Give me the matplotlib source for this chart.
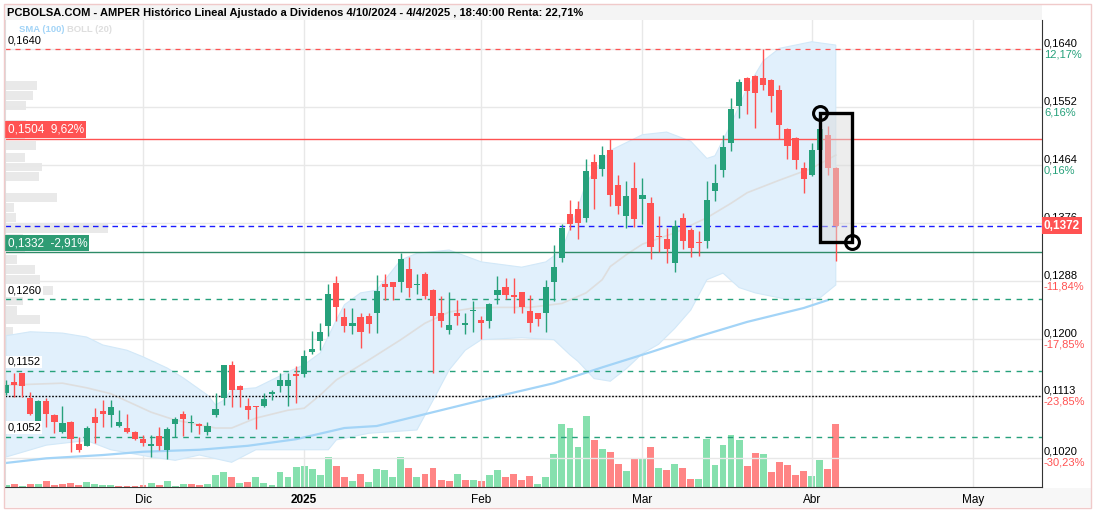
import numpy as np
import matplotlib
matplotlib.use("Agg")
import matplotlib.pyplot as plt
import matplotlib.transforms as mtransforms
from matplotlib.patches import Rectangle

plt.rcParams['font.family'] = ['Liberation Sans', 'DejaVu Sans']

titulo = "PCBOLSA.COM - AMPER Histórico Lineal Ajustado a Dividenos 4/10/2024 - 4/4/2025 , 18:40:00 Renta: 22,71%"

# velas diarias (indice de sesion 0..103, 17 = 2 dic 2024, 103 = 4 abr 2025)
apertura = [0.1118, 0.1135, 0.1148, 0.1111, 0.1074, 0.1106, 0.1085, 0.1059, 0.1074, 0.1041,
            0.1038, 0.1082, 0.1091, 0.1085, 0.1068, 0.1065, 0.1059, 0.1048, 0.1038, 0.1053,
            0.1032, 0.1071, 0.1086, 0.1072, 0.1071, 0.1059, 0.1085, 0.1110, 0.1160, 0.1129,
            0.1098, 0.1098, 0.1098, 0.1117, 0.1129, 0.1129, 0.1147, 0.1147, 0.1181, 0.1197,
            0.1219, 0.1285, 0.1233, 0.1220, 0.1233, 0.1235, 0.1240, 0.1283, 0.1286, 0.1286,
            0.1306, 0.1282, 0.1299, 0.1274, 0.1240, 0.1213, 0.1240, 0.1222, 0.1243, 0.1229,
            0.1228, 0.1267, 0.1279, 0.1267, 0.1271, 0.1243, 0.1239, 0.1240, 0.1286, 0.1323,
            0.1390, 0.1397, 0.1384, 0.1468, 0.1458, 0.1487, 0.1434, 0.1387, 0.1429, 0.1413,
            0.1407, 0.1357, 0.1352, 0.1316, 0.1383, 0.1365, 0.1347, 0.1348, 0.1424, 0.1456,
            0.1498, 0.1554, 0.1596, 0.1599, 0.1596, 0.1593, 0.1578, 0.1519, 0.1505, 0.1460,
            0.1449, 0.1487, 0.1509, 0.1460]
maximo = [0.1138, 0.1148, 0.1149, 0.1120, 0.1107, 0.1110, 0.1086, 0.1098, 0.1076, 0.1051,
          0.1068, 0.1095, 0.1108, 0.1108, 0.1092, 0.1087, 0.1060, 0.1054, 0.1054, 0.1066,
          0.1067, 0.1082, 0.1091, 0.1085, 0.1072, 0.1074, 0.1118, 0.1161, 0.1166, 0.1130,
          0.1110, 0.1099, 0.1118, 0.1122, 0.1148, 0.1149, 0.1159, 0.1183, 0.1212, 0.1224,
          0.1283, 0.1296, 0.1247, 0.1247, 0.1240, 0.1239, 0.1297, 0.1299, 0.1287, 0.1330,
          0.1324, 0.1299, 0.1301, 0.1276, 0.1265, 0.1271, 0.1259, 0.1240, 0.1257, 0.1235,
          0.1254, 0.1296, 0.1292, 0.1292, 0.1272, 0.1267, 0.1240, 0.1290, 0.1343, 0.1374,
          0.1411, 0.1409, 0.1473, 0.1480, 0.1493, 0.1503, 0.1449, 0.1440, 0.1468, 0.1445,
          0.1416, 0.1387, 0.1368, 0.1381, 0.1391, 0.1369, 0.1364, 0.1440, 0.1465, 0.1509,
          0.1565, 0.1594, 0.1597, 0.1600, 0.1640, 0.1594, 0.1586, 0.1520, 0.1506, 0.1468,
          0.1497, 0.1522, 0.1523, 0.1461]
minimo = [0.1115, 0.1112, 0.1112, 0.1085, 0.1070, 0.1067, 0.1058, 0.1057, 0.1028, 0.1028,
          0.1037, 0.1043, 0.1067, 0.1067, 0.1066, 0.1058, 0.1047, 0.1037, 0.1021, 0.1032,
          0.1018, 0.1051, 0.1053, 0.1059, 0.1056, 0.1054, 0.1081, 0.1100, 0.1097, 0.1097,
          0.1078, 0.1064, 0.1097, 0.1108, 0.1120, 0.1099, 0.1103, 0.1142, 0.1178, 0.1183,
          0.1204, 0.1228, 0.1210, 0.1208, 0.1186, 0.1209, 0.1209, 0.1259, 0.1259, 0.1272,
          0.1264, 0.1268, 0.1260, 0.1149, 0.1218, 0.1208, 0.1221, 0.1208, 0.1211, 0.1200,
          0.1216, 0.1253, 0.1260, 0.1240, 0.1240, 0.1211, 0.1220, 0.1211, 0.1258, 0.1317,
          0.1365, 0.1351, 0.1378, 0.1398, 0.1448, 0.1402, 0.1389, 0.1368, 0.1370, 0.1374,
          0.1322, 0.1332, 0.1315, 0.1301, 0.1336, 0.1324, 0.1326, 0.1338, 0.1410, 0.1446,
          0.1486, 0.1535, 0.1542, 0.1520, 0.1578, 0.1545, 0.1503, 0.1473, 0.1458, 0.1422,
          0.1448, 0.1486, 0.1449, 0.1318]
cierre = [0.1130, 0.1130, 0.1129, 0.1087, 0.1106, 0.1086, 0.1074, 0.1072, 0.1049, 0.1032,
          0.1065, 0.1073, 0.1087, 0.1097, 0.1074, 0.1059, 0.1048, 0.1043, 0.1041, 0.1038,
          0.1064, 0.1078, 0.1079, 0.1074, 0.1068, 0.1068, 0.1094, 0.1160, 0.1122, 0.1122,
          0.1092, 0.1097, 0.1109, 0.1119, 0.1138, 0.1138, 0.1144, 0.1174, 0.1185, 0.1211,
          0.1268, 0.1248, 0.1219, 0.1225, 0.1210, 0.1223, 0.1273, 0.1279, 0.1279, 0.1321,
          0.1278, 0.1283, 0.1266, 0.1235, 0.1228, 0.1221, 0.1235, 0.1224, 0.1244, 0.1224,
          0.1253, 0.1274, 0.1267, 0.1263, 0.1249, 0.1225, 0.1230, 0.1279, 0.1309, 0.1369,
          0.1374, 0.1376, 0.1455, 0.1443, 0.1479, 0.1419, 0.1402, 0.1417, 0.1382, 0.1418,
          0.1340, 0.1355, 0.1336, 0.1371, 0.1348, 0.1338, 0.1346, 0.1411, 0.1436, 0.1491,
          0.1549, 0.1590, 0.1577, 0.1573, 0.1585, 0.1568, 0.1525, 0.1493, 0.1472, 0.1443,
          0.1487, 0.1519, 0.1460, 0.1372]
# volumen (millones de titulos) y si la sesion cierra por encima de la anterior
volumen = [2.0, 3.3, 1.0, 2.7, 3.3, 6.3, 2.0, 3.3, 3.7, 2.0,
           4.7, 2.7, 1.7, 1.7, 1.0, 1.0, 1.0, 1.7, 4.3, 1.7,
           6.3, 1.0, 3.3, 3.3, 2.3, 3.0, 11.7, 14.7, 9.7, 3.7,
           4.7, 9.7, 3.7, 1.7, 14.7, 9.7, 19.7, 20.7, 18.0, 11.7,
           29.7, 20.7, 9.7, 5.7, 12.7, 4.7, 18.0, 17.0, 9.7, 29.7,
           18.7, 9.7, 12.7, 18.7, 7.0, 5.7, 12.7, 7.0, 7.0, 5.7,
           11.7, 17.0, 9.7, 12.7, 7.0, 10.7, 2.7, 9.7, 33.0, 63.0,
           59.0, 39.7, 70.7, 46.7, 38.0, 35.0, 23.0, 15.7, 29.0, 28.0,
           40.0, 19.0, 17.0, 23.0, 19.0, 8.0, 8.0, 48.0, 21.7, 41.7,
           52.0, 46.7, 21.0, 33.7, 33.0, 15.0, 25.0, 22.0, 12.0, 16.0,
           10.7, 27.0, 18.0, 63.0]
vol_sube = [1, 0, 1, 0, 1, 0, 0, 0, 0, 0,
            1, 1, 1, 1, 0, 0, 0, 0, 1, 0,
            1, 1, 1, 0, 0, 1, 1, 1, 0, 1,
            0, 1, 1, 1, 1, 1, 1, 1, 1, 1,
            1, 0, 0, 1, 0, 1, 1, 1, 1, 1,
            0, 1, 0, 0, 0, 0, 1, 0, 1, 0,
            1, 1, 0, 0, 0, 0, 1, 1, 1, 1,
            1, 1, 1, 0, 1, 0, 0, 1, 0, 1,
            0, 1, 0, 1, 0, 0, 1, 1, 1, 1,
            1, 1, 0, 0, 1, 0, 0, 0, 0, 0,
            1, 1, 0, 0]

# bandas de Bollinger (20) y media simple (100)
boll_sup_idx = [0, 3, 7, 10, 12, 15, 17, 20, 22, 25, 26, 27, 28, 31, 35, 37, 39, 41, 42, 44,
                46, 49, 51, 55, 59, 64, 67, 69, 71, 72, 75, 79, 82, 85, 87, 88, 90, 92, 94,
                96, 100, 103]
boll_sup = [0.1205, 0.1211, 0.1209, 0.1203, 0.1191, 0.1183, 0.1173, 0.1156, 0.1141, 0.1115,
            0.1100, 0.1107, 0.1123, 0.1126, 0.1150, 0.1161, 0.1179, 0.1229, 0.1252, 0.1270,
            0.1274, 0.1320, 0.1330, 0.1335, 0.1317, 0.1309, 0.1317, 0.1335, 0.1400, 0.1437,
            0.1486, 0.1510, 0.1514, 0.1500, 0.1474, 0.1478, 0.1526, 0.1581, 0.1622,
            0.1641, 0.1651, 0.1646]
boll_inf_idx = [0, 5, 10, 13, 18, 21, 24, 28, 31, 36, 40, 41, 45, 51, 53, 55, 57, 59, 64,
                68, 70, 71, 73, 75, 77, 79, 81, 83, 85, 87, 89, 91, 93, 97, 101, 103]
boll_inf = [0.1021, 0.1039, 0.1046, 0.1032, 0.1021, 0.1016, 0.1024, 0.1013, 0.1032, 0.1032,
            0.1032, 0.1047, 0.1057, 0.1062, 0.1107, 0.1153, 0.1183, 0.1199, 0.1202, 0.1199,
            0.1176, 0.1166, 0.1140, 0.1136, 0.1155, 0.1178, 0.1192, 0.1216, 0.1244, 0.1290,
            0.1300, 0.1278, 0.1270, 0.1260, 0.1262, 0.1282]
boll_med_idx = [0, 7, 10, 13, 18, 21, 26, 28, 31, 35, 37, 39, 41, 45, 49, 52, 55, 58, 61,
                65, 69, 72, 74, 75, 77, 79, 83, 87, 90, 92, 96, 100, 103]
boll_med = [0.1130, 0.1133, 0.1126, 0.1117, 0.1089, 0.1077, 0.1065, 0.1065, 0.1080, 0.1092,
            0.1095, 0.1115, 0.1138, 0.1168, 0.1199, 0.1224, 0.1241, 0.1247, 0.1248, 0.1248,
            0.1254, 0.1270, 0.1290, 0.1310, 0.1328, 0.1344, 0.1361, 0.1384, 0.1406, 0.1422,
            0.1441, 0.1459, 0.1479]
sma_idx = [0, 5, 12, 17, 24, 30, 36, 42, 46, 53, 59, 61, 68, 74, 80, 86, 92, 99, 102]
sma = [0.1012, 0.1019, 0.1024, 0.1029, 0.1032, 0.1038, 0.1048, 0.1065, 0.1068, 0.1089,
       0.1107, 0.1113, 0.1133, 0.1157, 0.1180, 0.1204, 0.1226, 0.1247, 0.1259]

# perfil de volumen por precio (lateral izquierdo)
perfil_precio = [0.1585, 0.1570, 0.1555, 0.1525, 0.1509, 0.1493, 0.1476, 0.1461, 0.1446,
                 0.1414, 0.1399, 0.1384, 0.1368, 0.1353, 0.1338, 0.1321, 0.1306, 0.1291,
                 0.1274, 0.1259, 0.1244, 0.1229, 0.1212, 0.1197, 0.1180, 0.1165, 0.1150,
                 0.1135, 0.1120, 0.1104, 0.1088, 0.1073, 0.1058, 0.1043]
perfil_vol = [32, 28, 21, 21, 20, 31, 20, 37, 34, 52, 9, 11, 103, 18, 20, 12, 30, 35,
              48, 18, 12, 35, 8, 6, 25, 25, 8, 27, 10, 10, 17, 12, 8, 10]

# niveles horizontales
nivel_max = 0.1640
nivel_res = 0.1504
nivel_ult = 0.1372
nivel_sop = 0.1332
niveles_verdes = [0.1260, 0.1152, 0.1052]
nivel_punteado = 0.1113
# rectangulo dibujado (indice inicio, indice fin, precio alto, precio bajo)
rect_x = [101, 105]
rect_y = [0.1543, 0.1347]

eje_precios = [0.1640, 0.1552, 0.1464, 0.1376, 0.1288, 0.1200, 0.1113, 0.1020]
eje_pct = ['12,17%', '6,16%', '0,16%', '', '-11,84%', '-17,85%', '-23,85%', '-30,23%']

meses = ['Dic', '2025', 'Feb', 'Mar', 'Abr', 'May']
meses_idx = [17, 37, 59, 79, 100, 120]

VERDE = '#26a17b'
ROJO = '#ff5252'
W, H = 1096, 512

fig = plt.figure(figsize=(W / 100, H / 100), dpi=100)
fig.patch.set_facecolor('white')

def fx(px):
    return px / W

def fy(py):
    return 1 - py / H

ax = fig.add_axes([fx(4.5), fy(487), fx(1042) - fx(4.5), fy(20) - fy(487)])
axv = ax.twinx()
axv.set_zorder(ax.get_zorder() - 1)
ax.patch.set_visible(False)

n = len(cierre)
x = np.arange(n)
o = np.array(apertura); c = np.array(cierre)
hi = np.array(maximo); lo = np.array(minimo)
sube = c >= o

# volumen abajo
vcol = ['#86e0ae' if s else '#ff8585' for s in vol_sube]
axv.bar(x, volumen, width=0.85, color=vcol, linewidth=0)
axv.set_ylim(0, 467)
axv.axis('off')

ax.set_xlim(-0.2, 128.6)
ax.set_ylim(0.09755, 0.1684)

# perfil de volumen
tr_perf = mtransforms.blended_transform_factory(ax.transAxes, ax.transData)
for p, v in zip(perfil_precio, perfil_vol):
    ax.add_patch(Rectangle((0, p - 0.00068), v / 1037.0, 0.00136, transform=tr_perf,
                           fc='#e9e9e9', ec='none', zorder=0.5))

# bandas
poly_x = list(boll_sup_idx) + list(boll_inf_idx)[::-1]
poly_y = list(boll_sup) + list(boll_inf)[::-1]
ax.fill(poly_x, poly_y, color='#e1f0fc', ec='#d2e8f8', lw=0.8, zorder=1)
ax.plot(boll_med_idx, boll_med, color='#dedede', lw=1.2, zorder=1.2)
ax.plot(sma_idx, sma, color='#a3d4f7', lw=1.6, zorder=1.3)

# rejilla
for t in eje_precios:
    ax.axhline(t, color='#e8e8e8', lw=1, zorder=0.8)
for m in meses_idx:
    ax.axvline(m, color='#e8e8e8', lw=1, zorder=0.8)

# lineas de nivel
ax.axhline(nivel_max, color=ROJO, lw=0.9, ls=(0, (4, 4)), zorder=2)
ax.axhline(nivel_res, color=ROJO, lw=1.0, zorder=2)
ax.axhline(nivel_ult, color='#1a1aff', lw=1.0, ls=(0, (4, 3)), zorder=2)
ax.axhline(nivel_sop, color='#2e8b68', lw=1.0, zorder=2)
for lv in niveles_verdes:
    ax.axhline(lv, color=VERDE, lw=1.0, ls=(0, (4, 4)), zorder=2)
ax.axhline(nivel_punteado, color='black', lw=1.0, ls=(0, (1.2, 1.2)), zorder=2)

# velas
col = np.where(sube, VERDE, ROJO)
ax.vlines(x, lo, hi, colors=col, lw=1.0, zorder=3)
cuerpo = np.maximum(np.abs(c - o), 0.00012)
ax.bar(x, cuerpo, bottom=np.minimum(o, c), width=0.76, color=col, linewidth=0, zorder=3.1)

# rectangulo dibujado
ax.add_patch(Rectangle((rect_x[0], rect_y[1]), rect_x[1] - rect_x[0], rect_y[0] - rect_y[1],
                       fc='#dcdcdc', alpha=0.5, ec='none', zorder=4))
ax.add_patch(Rectangle((rect_x[0], rect_y[1]), rect_x[1] - rect_x[0], rect_y[0] - rect_y[1],
                       fill=False, ec='black', lw=2.4, zorder=4.1))
ax.plot([rect_x[0], rect_x[1]], [rect_y[0], rect_y[1]], ls='none', marker='o', ms=10,
        mfc='none', mec='black', mew=2.2, zorder=4.2)

# ejes
ax.spines['top'].set_visible(False)
ax.spines['left'].set_color('#dddddd')
ax.spines['right'].set_color('#333333')
ax.spines['bottom'].set_color('#333333')
ax.set_yticks([])
ax.set_xticks(meses_idx)
ax.set_xticklabels(meses, fontsize=8.5)
ax.tick_params(axis='x', length=0, pad=5)
for lab in ax.get_xticklabels():
    if lab.get_text() == '2025':
        lab.set_fontweight('bold')

# etiquetas eje derecho
tr_der = mtransforms.blended_transform_factory(ax.transAxes, ax.transData)
for p, pc in zip(eje_precios, eje_pct):
    t1 = mtransforms.offset_copy(tr_der, fig=fig, x=2, y=6, units='dots')
    ax.text(1.0, p, ('%.4f' % p).replace('.', ','), transform=t1, fontsize=8,
            ha='left', va='center', color='black', clip_on=False)
    if pc:
        t2 = mtransforms.offset_copy(tr_der, fig=fig, x=2, y=-5, units='dots')
        ax.text(1.0, p, pc, transform=t2, fontsize=8, ha='left', va='center',
                color=ROJO if pc.startswith('-') else VERDE, clip_on=False)
t3 = mtransforms.offset_copy(tr_der, fig=fig, x=2, y=0, units='dots')
ax.text(1.0, nivel_ult, ('%.4f' % nivel_ult).replace('.', ','), transform=t3, fontsize=8.5,
        ha='left', va='center', color='white', fontweight='bold', clip_on=False, zorder=7,
        bbox=dict(boxstyle='square,pad=0.2', fc=ROJO, ec='none'))

# etiquetas a la izquierda
tr_izq = mtransforms.offset_copy(tr_der, fig=fig, x=3, y=4, units='dots')
ax.text(0.0, nivel_max, '0,1640', transform=tr_izq, fontsize=8, va='bottom', ha='left', zorder=6)
for lv in niveles_verdes:
    ax.text(0.0, lv, ('%.4f' % lv).replace('.', ','), transform=tr_izq, fontsize=8,
            va='bottom', ha='left', zorder=6,
            bbox=dict(boxstyle='square,pad=0.1', fc='white', ec='none'))
tr_caja = mtransforms.offset_copy(tr_der, fig=fig, x=3, y=3, units='dots')
ax.text(0.0, nivel_res, '0,1504  9,62%', transform=tr_caja, fontsize=8.5, va='bottom',
        ha='left', color='white', zorder=6,
        bbox=dict(boxstyle='square,pad=0.2', fc=ROJO, ec='none'))
ax.text(0.0, nivel_sop, '0,1332  -2,91%', transform=tr_caja, fontsize=8.5, va='bottom',
        ha='left', color='white', zorder=6,
        bbox=dict(boxstyle='square,pad=0.2', fc='#2e9c74', ec='none'))

# leyenda
fig.text(fx(19), fy(30), 'SMA (100)', color='#a3d4f7', fontsize=6.8, fontweight='bold', va='center')
fig.text(fx(67), fy(30), 'BOLL (20)', color='#dedede', fontsize=6.8, fontweight='bold', va='center')

# barra de titulo, banda de fechas y marco
fig.patches.append(Rectangle((fx(5), fy(20)), fx(1042) - fx(5), fy(5) - fy(20),
                             transform=fig.transFigure, fc='#f4f4f4', ec='none', zorder=-1))
fig.patches.append(Rectangle((fx(4.5), fy(507)), fx(1091) - fx(4.5), fy(488) - fy(507),
                             transform=fig.transFigure, fc='#f7f7f7', ec='none', zorder=-1))
fig.patches.append(Rectangle((fx(4), fy(508)), fx(1091) - fx(4), fy(4) - fy(508),
                             transform=fig.transFigure, fill=False, ec='#f0caca', lw=1))
fig.text(fx(7), fy(12.5), titulo, fontsize=8, fontweight='bold', va='center', ha='left')

fig.savefig('out.png', dpi=100)
